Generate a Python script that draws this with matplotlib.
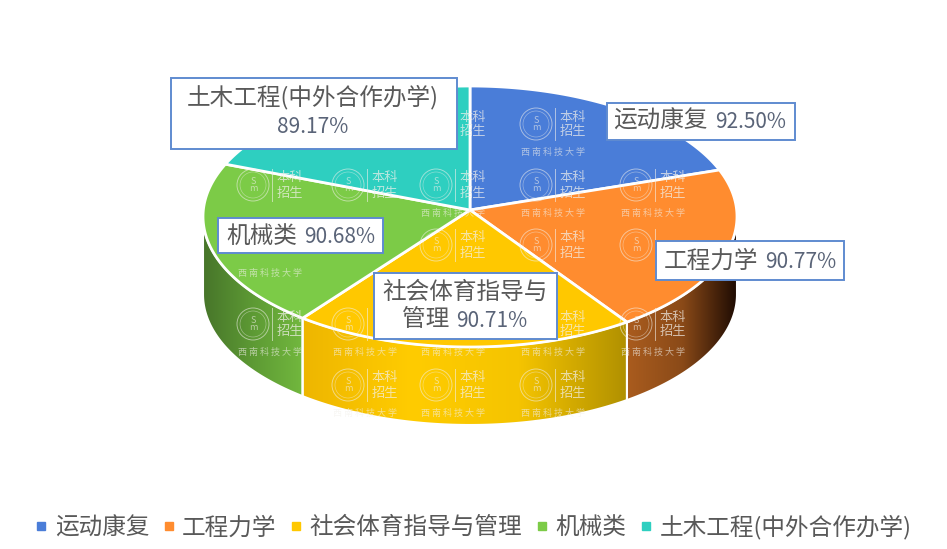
import numpy as np
import matplotlib
matplotlib.use('Agg')
import matplotlib.pyplot as plt
from matplotlib.colors import LinearSegmentedColormap
from matplotlib.lines import Line2D
from matplotlib.patches import Circle, PathPatch, Polygon, Rectangle
from matplotlib.path import Path

plt.rcParams['font.family'] = ['Noto Sans CJK SC', 'DejaVu Sans']

# data
majors = ['运动康复', '工程力学', '社会体育指导与管理', '机械类', '土木工程(中外合作办学)']
rates = [92.50, 90.77, 90.71, 90.68, 89.17]
colors = ['#4a7dd8', '#ff8c2f', '#ffc800', '#7ccb47', '#2ecfc0']

# side wall colours, left to right
wall_colors = {
    1: ['#aa5c1e', '#8a4a18', '#1c0a02'],
    2: ['#eeb600', '#ffcc00', '#f5c400', '#b09000'],
    3: ['#47752a', '#5d9a34', '#72b83e'],
}

# pie geometry in pixels, the apex sits above the rim centre because of the tilt
apex = (470, 210)
cx, cy = 470, 216.5
rx, ry = 267, 130.5
depth = 78
spread = 1.04  # perspective: front slices look wider

# label boxes: x0, y0, x1, y1
boxes = [(607, 103, 795, 140), (656, 241, 844, 280), (374, 273, 557, 339),
         (218, 218, 383, 253), (171, 78, 457, 149)]

TEXT = '#595959'
NUM = '#5a6478'


def rim(theta, dy=0):
    theta = np.asarray(theta)
    return np.column_stack([cx + rx * np.sin(theta), cy - ry * np.cos(theta) + dy])


def covered(x0, y0, x1, y1):
    # does this area touch a label box
    return any(b[0] < x1 and x0 < b[2] and b[1] < y1 and y0 < b[3] for b in boxes)


fig = plt.figure(figsize=(9.47, 5.49), dpi=100)
ax = fig.add_axes([0, 0, 1, 1])

angles = np.radians(np.concatenate([[0], np.cumsum(rates)]) / sum(rates) * 360)
angles[1:-1] = np.pi + (angles[1:-1] - np.pi) * spread

# side walls with horizontal gradient
for i in range(len(rates)):
    t0 = max(angles[i], np.pi / 2)
    t1 = min(angles[i + 1], 3 * np.pi / 2)
    if t0 >= t1:
        continue
    th = np.linspace(t0, t1, 80)
    pts = np.vstack([rim(th), rim(th[::-1], depth)])
    x0, x1 = pts[:, 0].min(), pts[:, 0].max()
    cmap = LinearSegmentedColormap.from_list('w%d' % i, wall_colors[i])
    im = ax.imshow(np.linspace(0, 1, 256).reshape(1, -1), cmap=cmap, aspect='auto',
                   extent=[x0, x1, pts[:, 1].max(), pts[:, 1].min()], zorder=1)
    clip = PathPatch(Path(np.vstack([pts, pts[:1]])), transform=ax.transData)
    im.set_clip_path(clip)
    ax.add_patch(Polygon(pts, closed=True, fc='none', ec='white', lw=1.5, zorder=2))

# top face
for i in range(len(rates)):
    th = np.linspace(angles[i], angles[i + 1], 80)
    pts = np.vstack([apex, rim(th)])
    ax.add_patch(Polygon(pts, closed=True, fc=colors[i], ec='white', lw=2, zorder=3))

# watermark
wm_cols = [290, 385, 473, 573, 673]
wm_rows = [122, 183, 243, 322, 383]
wm = '#f3f1ec'
for y in wm_rows:
    for x in wm_cols:
        if (y == 122 and x in (290, 673)) or (y == 383 and x in (290, 673)):
            continue
        if not covered(x - 53, y - 14, x - 21, y + 18):
            ax.add_patch(Circle((x - 37, y + 2), 16, fc='none', ec=wm, lw=0.7, alpha=0.55, zorder=4))
            ax.add_patch(Circle((x - 37, y + 2), 13, fc='none', ec=wm, lw=0.5, alpha=0.45, zorder=4))
            ax.text(x - 37, y + 2, 'S\nm', color=wm, alpha=0.6, fontsize=6.5, linespacing=0.8,
                    ha='center', va='center', zorder=4)
        if not covered(x - 19, y - 14, x - 17, y + 18):
            ax.plot([x - 18, x - 18], [y - 14, y + 18], color=wm, lw=0.7, alpha=0.6, zorder=4)
        if not covered(x - 15, y - 13, x + 15, y + 3):
            ax.text(x, y - 5, '本科', color=wm, alpha=0.7, fontsize=9.5, ha='center', va='center', zorder=4)
        if not covered(x - 15, y + 2, x + 15, y + 18):
            ax.text(x, y + 10, '招生', color=wm, alpha=0.7, fontsize=9.5, ha='center', va='center', zorder=4)
        if not covered(x - 55, y + 24, x + 15, y + 36):
            ax.text(x - 20, y + 30, '西 南 科 技 大 学', color=wm, alpha=0.6, fontsize=6.5, style='italic',
                    ha='center', va='center', zorder=4)

for b in boxes:
    ax.add_patch(Rectangle((b[0], b[1]), b[2] - b[0], b[3] - b[1], fc='white', ec='#5f8bd0', lw=1.4, zorder=5))


def label(name, x_split, y, value):
    # name on the left of x_split, value to the right
    ax.text(x_split, y, name, color=TEXT, fontsize=17, ha='right', va='center', zorder=6)
    ax.text(x_split + 7, y + 1, '%.2f%%' % value, color=NUM, fontsize=15, ha='left', va='center', zorder=6)


label(majors[0], 708, 121, rates[0])
label(majors[1], 758, 261, rates[1])
ax.text(465, 292, '社会体育指导与', color=TEXT, fontsize=17, ha='center', va='center', zorder=6)
label('管理', 449, 320, rates[2])
label(majors[3], 297, 236, rates[3])
ax.text(313, 97, majors[4], color=TEXT, fontsize=17, ha='center', va='center', zorder=6)
ax.text(313, 127, '%.2f%%' % rates[4], color=NUM, fontsize=15, ha='center', va='center', zorder=6)

handles = [Line2D([], [], ls='none', marker='s', ms=6, color=c) for c in colors]
ax.legend(handles, majors, loc='center', bbox_to_anchor=(473 / 947, 1 - 527 / 549), ncol=5, frameon=False,
          fontsize=17, labelcolor=TEXT, handlelength=0.55, handletextpad=0.3, columnspacing=0.55,
          borderpad=0, borderaxespad=0)

ax.set_xlim(0, 947)
ax.set_ylim(549, 0)
ax.axis('off')

fig.savefig('out.png', dpi=100)
